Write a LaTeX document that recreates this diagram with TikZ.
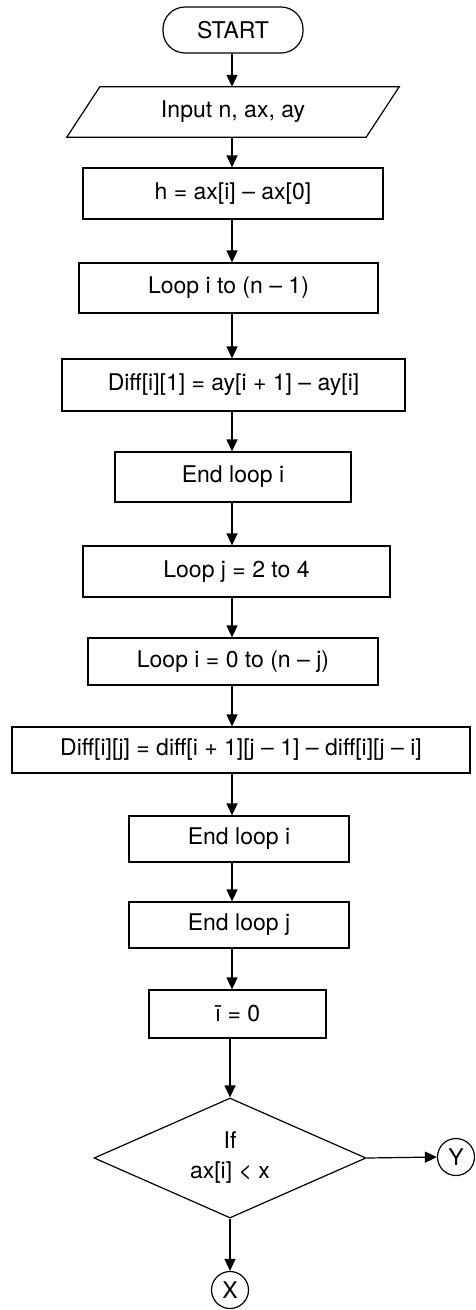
\documentclass[tikz,border=0pt]{standalone}
\usepackage{fontspec}
\setmainfont{TeX Gyre Heros}
\usetikzlibrary{arrows.meta,shapes.geometric}
\begin{document}
\begin{tikzpicture}[x=1pt,y=-1pt,
  lw/.style={line width=1.2pt},
  txt/.style={font=\fontsize{23}{30}\selectfont},
  box/.style={draw,lw,txt,inner sep=0pt},
  arr/.style={lw,-{Triangle[length=12pt,width=11pt]}},
  conn/.style={draw,circle,lw,txt,inner sep=0pt,minimum size=37pt}]
\useasboundingbox (0,0) rectangle (475,1310);
\coordinate (ax) at (232,0);
\node[box,rounded corners=22pt,minimum width=140pt,minimum height=46pt] (start) at (233,30) {START};
\node[txt,inner sep=0pt,minimum width=299pt,minimum height=50pt] (in) at (233,112) {Input n, ax, ay};
\draw[lw] ([xshift=-16.5pt]in.south west) -- ([xshift=16.5pt]in.north west) -- ([xshift=16.5pt]in.north east) -- ([xshift=-16.5pt]in.south east) -- cycle;
\node[box,minimum width=300pt,minimum height=51pt] (h) at (233,193.5) {h = ax[i] – ax[0]};
\node[box,minimum width=299pt,minimum height=50pt] (li) at (228.5,288) {Loop i to (n – 1)};
\node[box,minimum width=343pt,minimum height=52pt] (d1) at (233.5,385) {Diff[i][1] = ay[i + 1] – ay[i]};
\node[box,minimum width=236pt,minimum height=50pt] (eli) at (233,477) {End loop i};
\node[box,minimum width=307pt,minimum height=51pt] (lj) at (236.5,571.5) {Loop j = 2 to 4};
\node[box,minimum width=290pt,minimum height=47pt] (li0) at (233,661.5) {Loop i = 0 to (n – j)};
\node[box,minimum width=458pt,minimum height=46pt] (dij) at (241,750) {Diff[i][j] = diff[i + 1][j – 1] – diff[i][j – i]};
\node[box,minimum width=220pt,minimum height=46pt] (eli2) at (239,839) {End loop i};
\node[box,minimum width=220pt,minimum height=46pt] (elj) at (239,925) {End loop j};
\node[box,minimum width=177pt,minimum height=48pt] (i0) at (237.5,1014) {\={\i} = 0};
\node[draw,lw,txt,shape=diamond,aspect=2.27,inner sep=0pt,minimum width=272pt,minimum height=120pt,align=center] (if) at (230,1158) {If\\ax[i] < x};
\node[conn] (Y) at (456,1157) {Y};
\node[conn] (X) at (230,1290) {X};
\draw[arr] (start.south -| ax) -- (in.north -| ax);
\draw[arr] (in.south -| ax) -- (h.north -| ax);
\draw[arr] (h.south -| ax) -- (li.north -| ax);
\draw[arr] (li.south -| ax) -- (d1.north -| ax);
\draw[arr] (d1.south -| ax) -- (eli.north -| ax);
\draw[arr] (eli.south -| ax) -- (lj.north -| ax);
\draw[arr] (lj.south -| ax) -- (li0.north -| ax);
\draw[arr] (li0.south -| ax) -- (dij.north -| ax);
\draw[arr] (dij.south -| ax) -- (eli2.north -| ax);
\draw[arr] (eli2.south -| ax) -- (elj.north -| ax);
\draw[arr] (elj.south -| ax) -- (i0.north -| ax);
\draw[arr] (i0.south -| if.north) -- (if.north);
\draw[arr] (if.east) -- (Y.west);
\draw[arr] (if.south) -- (X.north);
\end{tikzpicture}
\end{document}
